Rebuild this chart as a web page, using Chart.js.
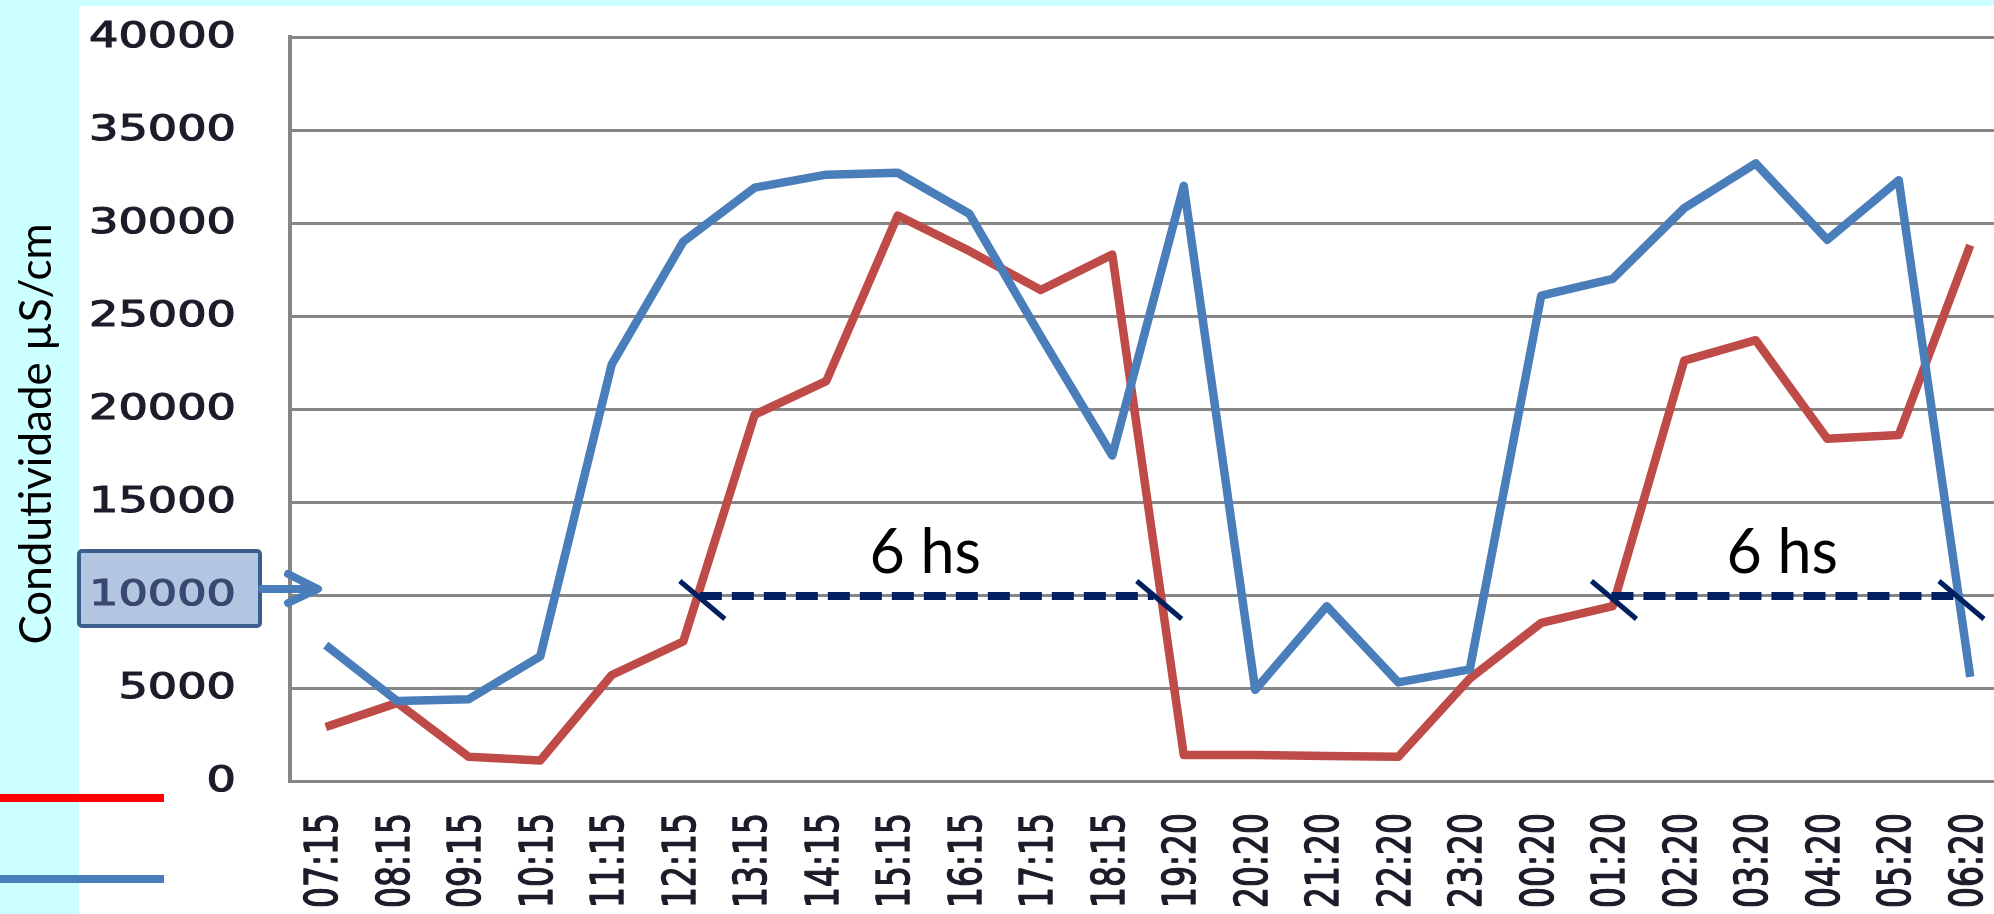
<!DOCTYPE html>
<html>
<head>
<meta charset="utf-8">
<title>Condutividade</title>
<script src="https://cdn.jsdelivr.net/npm/chart.js@4.4.0/dist/chart.umd.min.js"></script>
<style>
    html, body { margin: 0; padding: 0; background: #ffffff; overflow: hidden; }
    #wrap { width: 1994px; height: 914px; overflow: hidden; position: relative; }
    canvas { display: block; }
</style>
</head>
<body>
<div id="wrap"><canvas id="condChart" width="2006" height="914"></canvas></div>
<script>
// hourly readings
const timeLabels = [
    "07:15", "08:15", "09:15", "10:15", "11:15", "12:15", "13:15", "14:15",
    "15:15", "16:15", "17:15", "18:15", "19:20", "20:20", "21:20", "22:20",
    "23:20", "00:20", "01:20", "02:20", "03:20", "04:20", "05:20", "06:20"
];
const blueValues = [
    7300, 4300, 4400, 6700, 22400, 29000, 31900, 32600,
    32700, 30500, 23900, 17500, 32000, 4900, 9400, 5300,
    6000, 26100, 27000, 30800, 33200, 29100, 32300, 5600
];
const redValues = [
    2900, 4200, 1300, 1100, 5700, 7500, 19700, 21500,
    30400, 28500, 26400, 28300, 1400, 1400, 1350, 1300,
    5500, 8500, 9400, 22600, 23700, 18400, 18600, 28800
];
const yTickValues = [0, 5000, 10000, 15000, 20000, 25000, 30000, 35000, 40000];

// 10000 threshold and the two "6 hs" intervals (in category units)
const refLevel = 10000;
const spanFrom = [5.19, 17.94];
const spanTo = [11.58, 22.80];
const spanText = ["6 hs", "6 hs"];
const axisTitle = "Condutividade µS/cm";

const BLUE = "#4A7EBB";
const RED = "#BE4B48";
const NAVY = "#002060";
const GRID = "#868686";

function xAt(scale, pos) {
    return scale.getPixelForValue(pos);
}

// semi-bold look: fill plus a thin outline in the same colour
function heavyText(ctx, text, color) {
    ctx.fillStyle = color;
    ctx.strokeStyle = color;
    ctx.lineWidth = 1.1;
    ctx.fillText(text, 0, 0);
    ctx.strokeText(text, 0, 0);
}

/* -------------------------------
   Extra drawing: background, ticks, notes
---------------------------------*/
const decorPlugin = {
    id: "decor",
    beforeDraw(chart) {
        const ctx = chart.ctx;
        ctx.save();
        ctx.fillStyle = "#ffffff";
        ctx.fillRect(0, 0, chart.width, chart.height);
        ctx.fillStyle = "#ccffff";
        ctx.fillRect(0, 0, 79, chart.height);
        ctx.fillRect(0, 0, chart.width, 6);
        ctx.restore();
    },
    afterDraw(chart) {
        const ctx = chart.ctx;
        const x = chart.scales.x;
        const y = chart.scales.y;
        const area = chart.chartArea;
        const yRef = y.getPixelForValue(refLevel);

        ctx.save();

        // highlighted box around the 10000 label
        ctx.beginPath();
        ctx.roundRect(area.left - 211, yRef - 44, 181, 75, 3);
        ctx.fillStyle = "#B3C6E1";
        ctx.fill();
        ctx.lineWidth = 4;
        ctx.strokeStyle = "#3B5E8C";
        ctx.stroke();

        // y tick labels (stretched like the original)
        ctx.font = "35px 'DejaVu Sans'";
        ctx.textAlign = "right";
        ctx.textBaseline = "middle";
        y.ticks.forEach(t => {
            const py = y.getPixelForValue(t.value);
            ctx.save();
            ctx.translate(area.left - 54, py + 1);
            ctx.scale(1.32, 1);
            heavyText(ctx, String(t.value), t.value === refLevel ? "#3a4870" : "#1c1c2a");
            ctx.restore();
        });

        // arrow pointing at the threshold
        const ay = yRef - 6;
        const tipX = area.left + 28;
        ctx.strokeStyle = BLUE;
        ctx.lineWidth = 8;
        ctx.lineCap = "round";
        ctx.lineJoin = "round";
        ctx.beginPath();
        ctx.moveTo(area.left - 28, ay);
        ctx.lineTo(tipX - 3, ay);
        ctx.moveTo(tipX - 30, ay - 15);
        ctx.lineTo(tipX, ay);
        ctx.lineTo(tipX - 30, ay + 14);
        ctx.stroke();

        // x tick labels, rotated
        ctx.font = "33px 'DejaVu Sans'";
        ctx.textAlign = "right";
        ctx.textBaseline = "middle";
        timeLabels.forEach((lab, i) => {
            ctx.save();
            ctx.translate(x.getPixelForValue(i), area.bottom + 32);
            ctx.scale(1.35, 1);
            ctx.rotate(-Math.PI / 2);
            heavyText(ctx, lab, "#1c1c2a");
            ctx.restore();
        });

        // dashed "6 hs" intervals
        ctx.lineCap = "butt";
        for (let k = 0; k < spanFrom.length; k++) {
            const x0 = xAt(x, spanFrom[k]);
            const x1 = xAt(x, spanTo[k]);

            ctx.strokeStyle = NAVY;
            ctx.lineWidth = 8;
            ctx.setLineDash([22, 10]);
            ctx.beginPath();
            ctx.moveTo(x0 + 3, yRef + 1);
            ctx.lineTo(x1, yRef + 1);
            ctx.stroke();
            ctx.setLineDash([]);

            ctx.lineWidth = 5;
            [x0, x1].forEach(cx => {
                ctx.beginPath();
                ctx.moveTo(cx - 17, yRef - 14);
                ctx.lineTo(cx + 28, yRef + 24);
                ctx.stroke();
            });

            ctx.fillStyle = "#000000";
            ctx.font = "61px Lato";
            ctx.textAlign = "center";
            ctx.textBaseline = "alphabetic";
            ctx.fillText(spanText[k], (x0 + x1) / 2, yRef - 22);
        }

        // y axis title
        ctx.save();
        ctx.translate(37, 434);
        ctx.rotate(-Math.PI / 2);
        ctx.font = "44px Lato";
        ctx.fillStyle = "#000000";
        ctx.textAlign = "center";
        ctx.textBaseline = "middle";
        ctx.fillText(axisTitle, 0, 0);
        ctx.restore();

        // legend swatches (their text is cut off in the source)
        ctx.lineWidth = 8;
        ctx.strokeStyle = "#FF0000";
        ctx.beginPath();
        ctx.moveTo(0, area.bottom + 17);
        ctx.lineTo(164, area.bottom + 17);
        ctx.stroke();
        ctx.strokeStyle = BLUE;
        ctx.beginPath();
        ctx.moveTo(0, area.bottom + 98);
        ctx.lineTo(164, area.bottom + 98);
        ctx.stroke();

        ctx.restore();
    }
};

const ctx = document.getElementById("condChart").getContext("2d");

new Chart(ctx, {
    type: "line",
    data: {
        labels: timeLabels,
        datasets: [
            {
                label: "blue",
                data: blueValues,
                borderColor: BLUE,
                borderWidth: 8.5,
                borderJoinStyle: "round",
                pointRadius: 0,
                tension: 0
            },
            {
                label: "red",
                data: redValues,
                borderColor: RED,
                borderWidth: 8.5,
                borderJoinStyle: "round",
                pointRadius: 0,
                tension: 0
            }
        ]
    },
    options: {
        responsive: false,
        animation: false,
        layout: { padding: { top: 37, right: 0, bottom: 0, left: 0 } },
        plugins: {
            legend: { display: false },
            tooltip: { enabled: false }
        },
        scales: {
            x: {
                type: "category",
                offset: true,
                grid: { display: false, drawTicks: false },
                border: { display: true, color: GRID, width: 3 },
                ticks: { display: false },
                afterFit: (s) => { s.height = 133; }
            },
            y: {
                min: 0,
                max: 40000,
                afterBuildTicks: (s) => { s.ticks = yTickValues.map(v => ({ value: v })); },
                grid: { color: GRID, lineWidth: 3, drawTicks: false },
                border: { display: true, color: GRID, width: 4 },
                ticks: { display: false },
                afterFit: (s) => { s.width = 290; }
            }
        }
    },
    plugins: [decorPlugin]
});
</script>
</body>
</html>
